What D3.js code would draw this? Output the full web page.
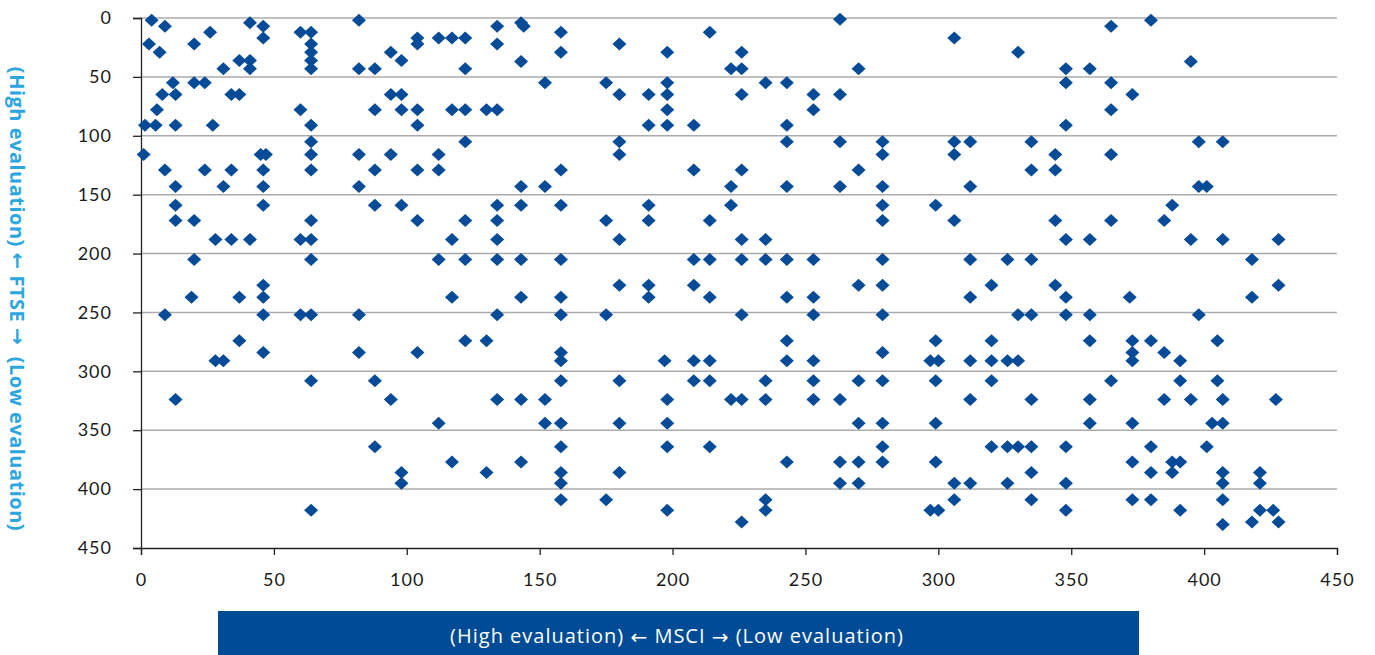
<!DOCTYPE html>
<html>
<head>
<meta charset="utf-8">
<script src="https://cdn.jsdelivr.net/npm/d3@7"></script>
<style>
  body { margin: 0; background: #fff; }
  svg { display: block; font-family: "Open Sans", Lato, sans-serif; }
</style>
</head>
<body>
<script>
var w = 1375;
var h = 655;

// FTSE rank rows (y) and the MSCI ranks (x) of the stocks sitting on each row
var ftseRows = [1, 2, 4, 7, 12, 17, 22, 29, 36, 37, 43, 55, 65, 78, 91, 105, 116, 129, 143, 159, 172, 188, 205,
    227, 237, 252, 274, 284, 291, 308, 324, 344, 364, 377, 386, 395, 409, 418, 428, 430];
var msciByRow = [
    [263],
    [4, 82, 380],
    [41, 143],
    [9, 46, 134, 144, 365],
    [26, 60, 64, 158, 214],
    [46, 104, 112, 117, 122, 306],
    [3, 20, 64, 104, 134, 180],
    [7, 64, 94, 158, 198, 226, 330],
    [37, 41, 64, 98],
    [143, 395],
    [31, 41, 64, 82, 88, 122, 222, 226, 270, 348, 357],
    [12, 20, 24, 152, 175, 198, 235, 243, 348, 365],
    [8, 13, 34, 37, 94, 98, 180, 191, 198, 226, 253, 263, 373],
    [6, 60, 88, 98, 104, 117, 122, 130, 134, 198, 253, 365],
    [1.5, 5.5, 13, 27, 64, 104, 191, 198, 208, 243, 348],
    [64, 122, 180, 243, 263, 279, 306, 312, 335, 398, 407],
    [1, 45, 47, 64, 82, 94, 112, 180, 279, 306, 344, 365],
    [9, 24, 34, 46, 64, 88, 104, 112, 158, 208, 226, 270, 335, 344],
    [13, 31, 46, 82, 143, 152, 222, 243, 263, 279, 312, 398, 401],
    [13, 46, 88, 98, 134, 143, 158, 191, 222, 279, 299, 388],
    [13, 20, 64, 104, 122, 134, 175, 191, 214, 279, 306, 344, 365, 385],
    [28, 34, 41, 60, 64, 117, 134, 180, 226, 235, 348, 357, 395, 407, 428],
    [20, 64, 112, 122, 134, 143, 158, 208, 214, 226, 235, 243, 253, 279, 312, 326, 335, 418],
    [46, 180, 191, 208, 270, 279, 320, 344, 428],
    [19, 37, 46, 117, 143, 158, 191, 214, 243, 253, 312, 348, 372, 418],
    [9, 46, 60, 64, 82, 134, 158, 175, 226, 253, 279, 330, 335, 348, 357, 398],
    [37, 122, 130, 243, 299, 320, 357, 373, 380, 405],
    [46, 82, 104, 158, 279, 373, 385],
    [28, 31, 158, 197, 208, 214, 243, 253, 297, 300, 312, 320, 326, 330, 373, 391],
    [64, 88, 158, 180, 208, 214, 235, 253, 270, 279, 299, 320, 365, 391, 405],
    [13, 94, 134, 143, 152, 198, 222, 226, 235, 253, 263, 312, 335, 357, 385, 395, 407, 427],
    [112, 152, 158, 180, 198, 270, 279, 299, 357, 373, 403, 407],
    [88, 158, 198, 214, 279, 320, 326, 330, 335, 348, 380, 401],
    [117, 143, 243, 263, 270, 279, 299, 373, 388, 391],
    [98, 130, 158, 180, 335, 380, 388, 407, 421],
    [98, 158, 263, 270, 306, 312, 326, 348, 407, 421],
    [158, 175, 235, 306, 335, 373, 380, 407],
    [64, 198, 235, 297, 300, 348, 391, 421, 426],
    [226, 418, 428],
    [407]
];

var xTicks = [0, 50, 100, 150, 200, 250, 300, 350, 400, 450];
var yTicks = [0, 50, 100, 150, 200, 250, 300, 350, 400, 450];

// titles split so the arrows can use a font that draws them full size
var yTitleParts = ["(High evaluation) ", "\u2190", " FTSE ", "\u2192", "  (Low evaluation)"];
var xTitleParts = ["(High evaluation) ", "\u2190", " MSCI ", "\u2192", " (Low evaluation)"];

var dataset = [];
ftseRows.forEach(function(r, i){
    msciByRow[i].forEach(function(m){
        dataset.push([m, r]);
    });
});

var plotLeft = 141, plotRight = 1337, plotTop = 18, plotBottom = 548;

var xScale = d3.scaleLinear().domain([0, 450]).range([plotLeft, plotRight]);
var yScale = d3.scaleLinear().domain([0, 450]).range([plotTop, plotBottom]);

var svg = d3.select("body").append("svg")
    .attr("width", w)
    .attr("height", h);

// horizontal gridlines
svg.append("g")
    .selectAll("line")
    .data(yTicks.slice(0, -1))
    .enter()
    .append("line")
    .attr("x1", plotLeft)
    .attr("x2", plotRight)
    .attr("y1", function(d){ return yScale(d); })
    .attr("y2", function(d){ return yScale(d); })
    .attr("stroke", "#ababab")
    .attr("stroke-width", 1.5);

var xAxis = d3.axisBottom(xScale).tickValues(xTicks).tickSize(7).tickPadding(18);
var yAxis = d3.axisLeft(yScale).tickValues(yTicks).tickSize(8).tickPadding(21);

var gx = svg.append("g")
    .attr("transform", "translate(0," + plotBottom + ")")
    .call(xAxis);
var gy = svg.append("g")
    .attr("transform", "translate(" + plotLeft + ",0)")
    .call(yAxis);

[gx, gy].forEach(function(g){
    g.select(".domain").attr("stroke", "#222").attr("stroke-width", 1.3);
    g.selectAll(".tick line").attr("stroke", "#222").attr("stroke-width", 1.3);
    g.selectAll(".tick text")
        .attr("fill", "#1a1a1a")
        .style("font-size", "18px")
        .style("letter-spacing", "1px")
        .style("font-family", "Lato, 'Open Sans', sans-serif");
});

// diamonds
var diamond = "M0,-6.5L7,0L0,6.5L-7,0Z";
svg.append("g")
    .selectAll("path")
    .data(dataset)
    .enter()
    .append("path")
    .attr("d", diamond)
    .attr("transform", function(d){
        return "translate(" + xScale(d[0]) + "," + yScale(d[1]) + ")";
    })
    .attr("fill", "#054b97");

function addParts(textSel, parts){
    textSel.selectAll("tspan")
        .data(parts)
        .enter()
        .append("tspan")
        .style("font-family", function(d, i){
            return i % 2 == 1 ? "'DejaVu Sans', sans-serif" : null;
        })
        .text(function(d){ return d; });
}

// y axis title
var yt = svg.append("text")
    .attr("transform", "translate(18,299) rotate(90)")
    .attr("text-anchor", "middle")
    .attr("dominant-baseline", "central")
    .style("font-size", "20px")
    .style("font-weight", "bold")
    .style("letter-spacing", "0.5px")
    .style("font-family", "'Open Sans', sans-serif")
    .style("white-space", "pre")
    .attr("fill", "#2ca6df");
addParts(yt, yTitleParts);

// x axis title box
svg.append("rect")
    .attr("x", 218)
    .attr("y", 611)
    .attr("width", 921)
    .attr("height", 44)
    .attr("fill", "#004b96");

var xt = svg.append("text")
    .attr("x", 677)
    .attr("y", 638)
    .attr("text-anchor", "middle")
    .attr("dominant-baseline", "middle")
    .style("font-size", "20px")
    .style("letter-spacing", "1px")
    .style("font-family", "'Open Sans', sans-serif")
    .attr("fill", "#fff");
addParts(xt, xTitleParts);
</script>
</body>
</html>
